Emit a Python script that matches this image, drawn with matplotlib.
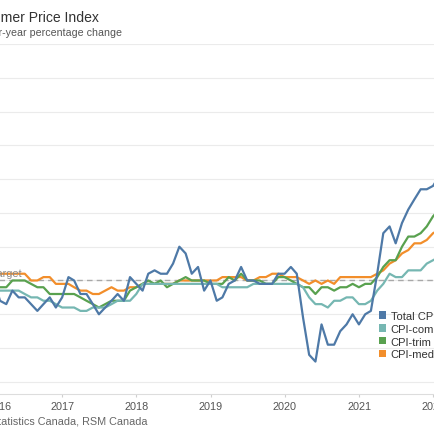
import matplotlib
matplotlib.use("Agg")
import matplotlib.pyplot as plt
from matplotlib.patches import Patch
import numpy as np
import pandas as pd

plt.rcParams['font.family'] = ['Liberation Sans', 'DejaVu Sans']

# Monthly data, Jan 2016 .. Jan 2022 (year-over-year % change)
start_month = '2016-01-31'
total_cpi = [2.0, 1.4, 1.3, 1.7, 1.5, 1.5, 1.3, 1.1, 1.3, 1.5, 1.2, 1.5,
             2.1, 2.0, 1.6, 1.6, 1.3, 1.0, 1.2, 1.4, 1.6, 1.4, 2.1, 1.9,
             1.7, 2.2, 2.3, 2.2, 2.2, 2.5, 3.0, 2.8, 2.2, 2.4, 1.7, 2.0,
             1.4, 1.5, 1.9, 2.0, 2.4, 2.0, 2.0, 1.9, 1.9, 1.9, 2.2, 2.2,
             2.4, 2.2, 0.9, -0.2, -0.4, 0.7, 0.1, 0.1, 0.5, 0.7, 1.0, 0.7,
             1.0, 1.1, 2.2, 3.4, 3.6, 3.1, 3.7, 4.1, 4.4, 4.7, 4.7, 4.8,
             5.1]
cpi_common = [1.7, 1.7, 1.7, 1.7, 1.7, 1.6, 1.5, 1.5, 1.4, 1.4, 1.3, 1.2,
              1.2, 1.2, 1.1, 1.1, 1.2, 1.2, 1.2, 1.3, 1.4, 1.4, 1.4, 1.6,
              1.9, 1.9, 1.9, 1.9, 1.9, 1.9, 1.9, 1.9, 1.9, 1.9, 1.9, 1.9,
              1.9, 1.8, 1.8, 1.8, 1.8, 1.8, 1.9, 1.9, 1.9, 1.9, 1.9, 1.9,
              1.9, 1.9, 1.8, 1.5, 1.3, 1.3, 1.2, 1.4, 1.4, 1.5, 1.5, 1.3,
              1.3, 1.4, 1.7, 1.9, 2.2, 2.1, 2.1, 2.3, 2.3, 2.3, 2.5, 2.6,
              2.7]
cpi_trim = [1.8, 1.8, 1.8, 2.0, 2.0, 2.0, 1.9, 1.8, 1.8, 1.6, 1.6, 1.6,
            1.6, 1.6, 1.5, 1.4, 1.3, 1.2, 1.3, 1.4, 1.4, 1.4, 1.7, 1.8,
            1.9, 2.0, 1.9, 2.0, 1.8, 1.9, 2.0, 2.1, 2.0, 2.0, 2.0, 1.9,
            1.9, 1.9, 2.1, 2.0, 2.2, 2.0, 2.0, 2.0, 1.9, 1.9, 2.1, 2.1,
            2.0, 1.9, 1.8, 1.8, 1.6, 1.8, 1.8, 1.7, 1.8, 1.8, 1.9, 1.8,
            1.9, 1.9, 2.1, 2.4, 2.6, 2.6, 3.0, 3.3, 3.3, 3.4, 3.6, 3.9,
            4.1]
cpi_median = [2.2, 2.2, 2.2, 2.2, 2.2, 2.2, 2.0, 2.0, 2.1, 2.1, 1.9, 1.9,
              1.9, 1.8, 1.7, 1.7, 1.6, 1.6, 1.7, 1.8, 1.7, 1.7, 1.8, 1.8,
              1.9, 1.9, 1.9, 1.9, 1.9, 1.9, 2.0, 2.0, 2.0, 2.0, 2.0, 2.0,
              2.0, 2.1, 2.1, 2.1, 2.1, 2.0, 2.0, 2.1, 2.1, 2.2, 2.2, 2.1,
              2.1, 2.1, 2.0, 1.9, 2.0, 1.9, 2.0, 1.9, 2.1, 2.1, 2.1, 2.1,
              2.1, 2.1, 2.2, 2.3, 2.5, 2.6, 2.8, 2.9, 3.1, 3.1, 3.2, 3.4,
              3.5]
target = 2.0
series_names = ['Total CPI', 'CPI-common', 'CPI-trim', 'CPI-median']
series_colors = ['#4e79a7', '#76b7b2', '#59a14f', '#f28e2b']
year_ticks = ['2016', '2017', '2018', '2019', '2020', '2021', '2022', '2023']

dates = pd.date_range(start_month, periods=len(total_cpi), freq='ME')

W = H = 435
fig = plt.figure(figsize=(W / 100, H / 100), dpi=100)
fig.patch.set_facecolor('white')
ax = fig.add_axes([-12 / W, 40 / H, 519.4 / W, 350 / H])

series = [total_cpi, cpi_common, cpi_trim, cpi_median]
for vals, name, col in list(zip(series, series_names, series_colors))[::-1]:
    ax.plot(dates, vals, color=col, lw=1.6, label=name, zorder=3)

ax.axhline(target, color='#a8a8a8', lw=1.0, dashes=(4, 3), zorder=2)
ax.annotate('Target', xy=(0, target), xycoords=('axes fraction', 'data'),
            xytext=(3, 3), textcoords='offset points', ha='left',
            va='baseline', fontsize=7.8, color='#8a8a8a')

ax.set_xlim(pd.Timestamp('2016-01-01'), pd.Timestamp('2023-01-01'))
ax.set_ylim(-1.36, 9.0)
ax.set_yticks(np.arange(-1, 10, 1))
ax.grid(axis='y', color='#ebebeb', lw=0.8, zorder=0)
ax.tick_params(axis='y', left=False, labelleft=False)

ax.set_xticks(pd.to_datetime([f'{y}-01-01' for y in year_ticks]))
ax.set_xticklabels(year_ticks)
ax.tick_params(axis='x', length=2.5, width=0.8, color='#cfcfcf', pad=2.5,
               labelsize=7.8, labelcolor='#555555')
ax.get_xticklabels()[0].set_ha('left')

for s in ['top', 'right', 'left']:
    ax.spines[s].set_visible(False)
ax.spines['bottom'].set_color('#dddddd')
ax.spines['bottom'].set_linewidth(0.8)

handles = [Patch(facecolor=c, edgecolor='none') for c in series_colors]
ax.legend(handles, series_names, loc='upper left',
          bbox_to_anchor=(379 / W, 1 - 312 / H), bbox_transform=fig.transFigure,
          frameon=False, borderpad=0, borderaxespad=0, fontsize=8,
          handlelength=0.65, handleheight=0.65, handletextpad=0.4,
          labelspacing=0.25, labelcolor='#333333')

fig.text(99 / W, 1 - 22 / H, 'Consumer Price Index', ha='right',
         va='baseline', fontsize=10.1, color='#333333')
fig.text(122 / W, 1 - 35.5 / H, 'Year-over-year percentage change',
         ha='right', va='baseline', fontsize=7.7, color='#555555')
fig.text(148 / W, 1 - 425 / H, 'Source: Statistics Canada, RSM Canada',
         ha='right', va='baseline', fontsize=7.8, color='#666666')

fig.savefig('out.png', dpi=100)
